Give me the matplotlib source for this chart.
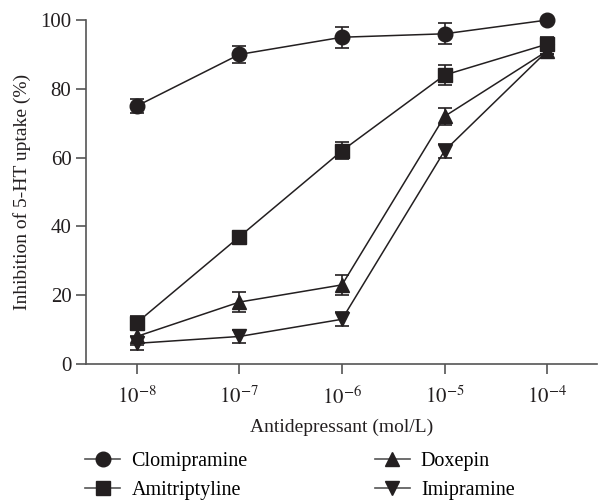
import numpy as np
import matplotlib
matplotlib.use("Agg")
import matplotlib.pyplot as plt

plt.rcParams['font.family'] = ['Liberation Serif', 'DejaVu Serif']
plt.rcParams['mathtext.fontset'] = 'stix'

# concentrations (mol/L)
conc = [1e-8, 1e-7, 1e-6, 1e-5, 1e-4]

clomipramine = [75, 90, 95, 96, 100]
clomipramine_err = [2, 2.5, 3, 3, 0]
amitriptyline = [12, 37, 62, 84, 93]
amitriptyline_err = [2, 1.5, 2.5, 3, 2]
doxepin = [8, 18, 23, 72, 91]
doxepin_err = [2.5, 3, 3, 2.5, 1]
imipramine = [6, 8, 13, 62, 91]
imipramine_err = [2, 2, 2, 2, 1]

labels = ['Clomipramine', 'Amitriptyline', 'Doxepin', 'Imipramine']
xtick_labels = [r'$10^{-8}$', r'$10^{-7}$', r'$10^{-6}$', r'$10^{-5}$', r'$10^{-4}$']

col = '#231f20'

fig = plt.figure(figsize=(5.99, 5.01), dpi=100)
ax = fig.add_axes([0.1436, 0.2735, 0.853, 0.6865])

series = [
    (clomipramine, clomipramine_err, 'o', 10.5),
    (amitriptyline, amitriptyline_err, 's', 10),
    (doxepin, doxepin_err, '^', 10.5),
    (imipramine, imipramine_err, 'v', 10.5),
]
for (vals, err, mk, ms), lab in zip(series, labels):
    h = ax.errorbar(conc, vals, yerr=err, fmt='-', marker=mk, ms=ms, color=col,
                    lw=1.1, elinewidth=1.2, capsize=5, capthick=1.2, label=lab)
    h.lines[0].set_clip_on(False)
    for art in h.lines[1] + h.lines[2]:
        art.set_clip_on(False)

ax.set_xscale('log')
ax.set_xlim(10**-8.495, 10**-3.515)
ax.set_ylim(0, 100)
ax.set_xticks(conc)
ax.set_xticklabels(xtick_labels)
ax.minorticks_off()
ax.set_yticks([0, 20, 40, 60, 80, 100])

for s in ['top', 'right']:
    ax.spines[s].set_visible(False)
for s in ['left', 'bottom']:
    ax.spines[s].set_color('#555555')
    ax.spines[s].set_linewidth(1.2)
ax.tick_params(axis='both', direction='out', length=7, width=1.2, color='#555555',
               labelsize=15, labelcolor=col)
ax.tick_params(axis='x', pad=9)

ax.set_xlabel('Antidepressant (mol/L)', fontsize=14, color=col, labelpad=7)
ax.set_ylabel('Inhibition of 5-HT uptake (%)', fontsize=14, color=col, labelpad=7)

leg_handles = [plt.Line2D([], [], color='#555555', lw=1.2, marker=s[2], ms=s[3],
                          mfc=col, mec=col) for s in series]
fig.legend(leg_handles, labels, loc='upper left', bbox_to_anchor=(0.142, 0.098),
           ncol=2, frameon=False, fontsize=14.5, columnspacing=6.3,
           handlelength=1.75, handletextpad=0.55, labelspacing=0.5,
           borderpad=0, borderaxespad=0)

fig.savefig('out.png', dpi=100)
